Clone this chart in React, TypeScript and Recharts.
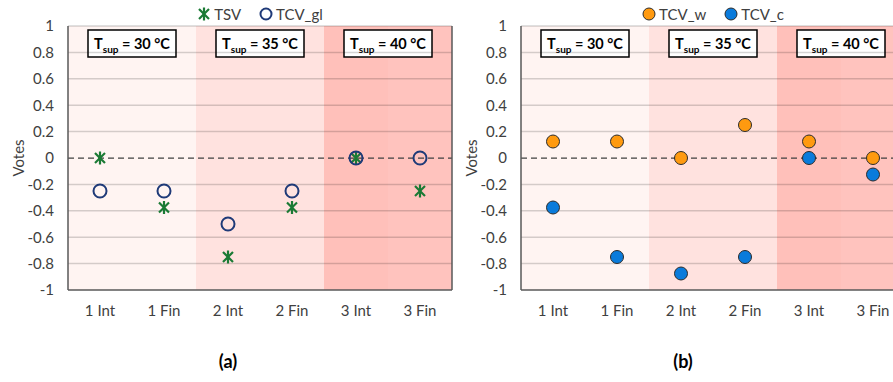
import React from 'react';
import {
  ComposedChart, Scatter, XAxis, YAxis, ReferenceArea, ReferenceLine,
} from 'recharts';

// ---- data ----
const categories = ['1 Int', '1 Fin', '2 Int', '2 Fin', '3 Int', '3 Fin'];
const tsv = [0, -0.375, -0.75, -0.375, 0, -0.25];
const tcvGl = [-0.25, -0.25, -0.5, -0.25, 0, 0];
const tcvW = [0.125, 0.125, 0, 0.25, 0.125, 0];
const tcvC = [-0.375, -0.75, -0.875, -0.75, 0, -0.125];
const yTicks = [-1, -0.8, -0.6, -0.4, -0.2, 0, 0.2, 0.4, 0.6, 0.8, 1];
const supplyTemps = ['30', '35', '40'];
const tempRanges = [['1 Int', '1 Fin'], ['2 Int', '2 Fin'], ['3 Int', '3 Fin']];
const panelLabels = ['(a)', '(b)'];

// ---- styles ----
const FONT = 'Lato, "Open Sans", sans-serif';
const bandFills = ['#FFF4F2', '#FFF4F2', '#FFE2DF', '#FFE2DF', '#FFC0BA', '#FFC3BE'];
const GREEN = '#1B7A35';
const NAVY = '#1F3A78';
const ORANGE = '#FF9A10';
const BLUE = '#0A7BDB';

const catIndex = (c: string) => categories.indexOf(c);
const xTicks = categories.map((_, i) => i);

const dataA = categories.map((c, i) => ({ x: catIndex(c), tsv: tsv[i], tcvGl: tcvGl[i] }));
const dataB = categories.map((c, i) => ({ x: catIndex(c), tcvW: tcvW[i], tcvC: tcvC[i] }));

const Asterisk = (props: any) => {
  const { cx, cy } = props;
  if (cx == null || cy == null) return null;
  const d = 5;
  return (
    <g stroke={GREEN} strokeWidth={2.2} strokeLinecap="butt">
      <line x1={cx - d} y1={cy - d} x2={cx + d} y2={cy + d} />
      <line x1={cx + d} y1={cy - d} x2={cx - d} y2={cy + d} />
      <line x1={cx} y1={cy - 6.5} x2={cx} y2={cy + 6.5} />
    </g>
  );
};
const OpenCircle = (props: any) => {
  const { cx, cy } = props;
  if (cx == null || cy == null) return null;
  return <circle cx={cx} cy={cy} r={6.5} fill="none" stroke={NAVY} strokeWidth={2} />;
};
const makeDot = (fill: string) => (props: any) => {
  const { cx, cy } = props;
  if (cx == null || cy == null) return null;
  return <circle cx={cx} cy={cy} r={6.5} fill={fill} stroke="#2b2b2b" strokeWidth={1} />;
};
const OrangeDot = makeDot(ORANGE);
const BlueDot = makeDot(BLUE);

const TempBox = ({ viewBox, temp }: any) => {
  if (!viewBox) return null;
  const w = 88;
  const h = 27;
  const cx = viewBox.x + viewBox.width / 2;
  const y = viewBox.y + 4;
  return (
    <g>
      <rect x={cx - w / 2} y={y} width={w} height={h} fill="#fff" stroke="#000" strokeWidth={1.5} />
      <text x={cx} y={y + 19} textAnchor="middle" fontFamily={FONT} fontWeight="bold" fontSize={14.5} fill="#000">
        T<tspan fontSize={10} dy={4}>sup</tspan><tspan dy={-4}>{` = ${temp} °C`}</tspan>
      </text>
    </g>
  );
};

const VotesLabel = (props: any) => {
  const vb = props.viewBox || { y: 26, height: 264 };
  const cy = vb.y + vb.height / 2;
  return (
    <text x={18} y={cy} transform={`rotate(-90, 18, ${cy})`} textAnchor="middle" dominantBaseline="central"
      fontFamily={FONT} fontSize={15} fill="#404040">Votes</text>
  );
};

const LegendRow = ({ items, left }: { items: { name: string; icon: React.ReactNode }[]; left: number }) => (
  <div style={{ position: 'absolute', top: 4, left, width: 384, display: 'flex', justifyContent: 'center', gap: 18,
    fontFamily: FONT, fontSize: 15, color: '#404040', lineHeight: '20px' }}>
    {items.map((it) => (
      <div key={it.name} style={{ display: 'flex', alignItems: 'center', gap: 3 }}>
        <svg width={14} height={14}>{it.icon}</svg>
        <span>{it.name}</span>
      </div>
    ))}
  </div>
);

const legendA = [
  { name: 'TSV', icon: <Asterisk cx={7} cy={7} /> },
  { name: 'TCV_gl', icon: <circle cx={7} cy={7} r={5.5} fill="none" stroke={NAVY} strokeWidth={2} /> },
];
const legendB = [
  { name: 'TCV_w', icon: <circle cx={7} cy={7} r={6} fill={ORANGE} stroke="#2b2b2b" strokeWidth={1} /> },
  { name: 'TCV_c', icon: <circle cx={7} cy={7} r={6} fill={BLUE} stroke="#2b2b2b" strokeWidth={1} /> },
];

const Panel = ({ data, series }: any) => (
  <ComposedChart width={460} height={382} data={data} margin={{ top: 26, right: 7, bottom: 62, left: 0 }}>
    <XAxis dataKey="x" type="number" domain={[-0.5, categories.length - 0.5]} ticks={xTicks} interval={0}
      tickFormatter={(v: number) => categories[v]} tickLine={false} tickSize={0} tickMargin={15}
      axisLine={{ stroke: '#595959', strokeWidth: 1.5 }} height={30} allowDataOverflow
      tick={{ fontFamily: FONT, fontSize: 15, fill: '#404040' }} />
    <YAxis type="number" domain={[-1, 1]} ticks={yTicks} width={68} tickLine={false} tickSize={0} tickMargin={14}
      axisLine={{ stroke: '#595959', strokeWidth: 1.5 }} interval={0} allowDataOverflow
      tick={{ fontFamily: FONT, fontSize: 15, fill: '#404040' }} label={<VotesLabel />} />
    <YAxis yAxisId="r" orientation="right" type="number" domain={[-1, 1]} width={1} tick={false} tickLine={false}
      axisLine={{ stroke: '#595959', strokeWidth: 1.5 }} />
    {categories.map((c, i) => (
      <ReferenceArea key={'band' + c} x1={catIndex(c) - 0.5} x2={catIndex(c) + 0.5} y1={-1} y2={1}
        fill={bandFills[i]} fillOpacity={1} stroke="none" />
    ))}
    {yTicks.filter((t) => t !== 0 && t !== -1).map((t) => (
      <ReferenceLine key={'g' + t} y={t} stroke="#000" strokeOpacity={0.17} strokeWidth={1.5} />
    ))}
    <ReferenceLine y={0} stroke="#404040" strokeWidth={1.25} strokeDasharray="6 4" />
    {supplyTemps.map((temp, i) => (
      <ReferenceArea key={'t' + temp} x1={catIndex(tempRanges[i][0]) - 0.5} x2={catIndex(tempRanges[i][1]) + 0.5}
        y1={-1} y2={1} fill="none" fillOpacity={0} stroke="none"
        label={(p: any) => <TempBox viewBox={p.viewBox} temp={temp} />} />
    ))}
    {series}
  </ComposedChart>
);

export default function App() {
  return (
    <div style={{ position: 'absolute', left: 0, top: 0, width: 893, height: 382, overflow: 'hidden', background: '#fff' }}>
      <div style={{ position: 'absolute', left: 0, top: 0 }}>
        <Panel data={dataA} series={[
          <Scatter key="s1" dataKey="tsv" name="TSV" fill={GREEN} shape={<Asterisk />} isAnimationActive={false} />,
          <Scatter key="s2" dataKey="tcvGl" name="TCV_gl" fill={NAVY} shape={<OpenCircle />} isAnimationActive={false} />,
        ]} />
      </div>
      <div style={{ position: 'absolute', left: 453, top: 0 }}>
        <Panel data={dataB} series={[
          <Scatter key="s3" dataKey="tcvW" name="TCV_w" fill={ORANGE} shape={<OrangeDot />} isAnimationActive={false} />,
          <Scatter key="s4" dataKey="tcvC" name="TCV_c" fill={BLUE} shape={<BlueDot />} isAnimationActive={false} />,
        ]} />
      </div>
      <LegendRow items={legendA} left={68} />
      <LegendRow items={legendB} left={521} />
      {panelLabels.map((l, i) => (
        <div key={l} style={{ position: 'absolute', top: 350, left: i === 0 ? 208 : 663, width: 40, textAlign: 'center',
          fontFamily: FONT, fontWeight: 'bold', fontSize: 18, color: '#000' }}>{l}</div>
      ))}
    </div>
  );
}
